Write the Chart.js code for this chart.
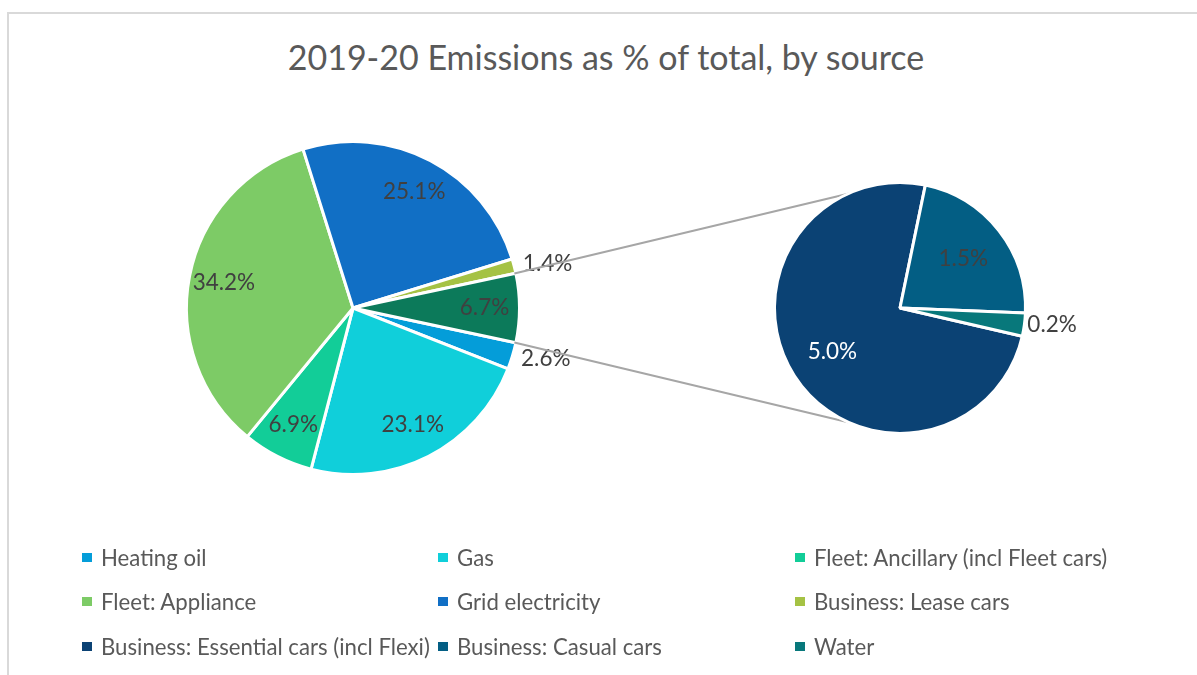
<!DOCTYPE html>
<html>
<head>
<meta charset="utf-8">
<script src="https://cdn.jsdelivr.net/npm/chart.js@4.4.1/dist/chart.umd.min.js"></script>
<style>
  html, body { margin: 0; padding: 0; background: #ffffff; }
  #wrap { position: relative; width: 1197px; height: 675px; overflow: hidden; font-family: Lato, "Open Sans", sans-serif; }
  #frame { position: absolute; left: 7px; top: 12px; width: 1400px; height: 900px;
           border-top: 2px solid #d9d9d9; border-left: 2px solid #d9d9d9; }
  #title { position: absolute; left: 0; width: 1212px; top: 35px; text-align: center;
           font-size: 34px; line-height: 44px; color: #595959; white-space: nowrap; }
  canvas { position: absolute; left: 0; top: 0; }
  #legend { position: absolute; left: 82px; top: 535px; display: grid;
            grid-template-columns: 356px 357px 360px; grid-auto-rows: 44.5px; align-items: center;
            font-size: 22.2px; color: #595959; }
  .item { display: flex; align-items: center; white-space: nowrap; }
  .mk { width: 10px; height: 9px; margin-right: 9px; flex: 0 0 auto; }
</style>
</head>
<body>
<div id="wrap">
  <div id="frame"></div>
  <div id="title">2019-20 Emissions as % of total, by source</div>
  <canvas id="mainPie" width="1197" height="675"></canvas>
  <canvas id="subPie" width="1197" height="675"></canvas>
  <div id="legend"></div>
</div>
<script>
// ---- data ----
const mainLabels = ['Heating oil', 'Gas', 'Fleet: Ancillary (incl Fleet cars)', 'Fleet: Appliance',
                    'Grid electricity', 'Business: Lease cars', 'Other'];
const mainValues = [2.6, 23.1, 6.9, 34.2, 25.1, 1.4, 6.7];
const subLabels = ['Business: Essential cars (incl Flexi)', 'Business: Casual cars', 'Water'];
const subValues = [5.0, 1.5, 0.2];

// ---- styles ----
const mainColors = ['#049dd9', '#10cfda', '#12cd98', '#7dcb66', '#116fc5', '#a5c244', '#0c7a5a'];
const subColors = ['#0b4274', '#035e84', '#08787b'];
const subLabelColors = ['#ffffff', '#404040', '#404040'];
const labelFont = '22.5px Lato, "Open Sans", sans-serif';

// legend (all series except the "Other" aggregate)
const legendEl = document.getElementById('legend');
const legendNames = mainLabels.slice(0, mainLabels.length - 1).concat(subLabels);
const legendColors = mainColors.slice(0, mainColors.length - 1).concat(subColors);
legendNames.forEach((n, i) => {
  const d = document.createElement('div');
  d.className = 'item';
  const m = document.createElement('span');
  m.className = 'mk';
  m.style.background = legendColors[i];
  const t = document.createElement('span');
  t.textContent = n;
  d.appendChild(m); d.appendChild(t);
  legendEl.appendChild(d);
});

const pctLabels = {
  id: 'pctLabels',
  afterDatasetsDraw(chart, args, opts) {
    const ctx = chart.ctx;
    const meta = chart.getDatasetMeta(0);
    const ds = chart.data.datasets[0];
    ctx.save();
    ctx.font = opts.font;
    ctx.textBaseline = 'middle';
    meta.data.forEach((arc, i) => {
      const v = ds.data[i];
      const p = arc.getProps(['x', 'y', 'startAngle', 'endAngle', 'outerRadius'], true);
      const mid = (p.startAngle + p.endAngle) / 2;
      let d, align;
      if (v < opts.outsideBelow) {
        d = p.outerRadius + opts.outsideGap;
        align = Math.cos(mid) >= 0 ? 'left' : 'right';
      } else {
        d = p.outerRadius * opts.insideFactor;
        align = 'center';
      }
      ctx.textAlign = align;
      ctx.fillStyle = (opts.colors && opts.colors[i]) || '#404040';
      ctx.fillText(v.toFixed(1) + '%', p.x + Math.cos(mid) * d, p.y + Math.sin(mid) * d);
    });
    ctx.restore();
  }
};

const otherShare = mainValues[mainValues.length - 1] / mainValues.reduce((a, b) => a + b, 0);

const mainChart = new Chart(document.getElementById('mainPie'), {
  type: 'pie',
  data: {
    labels: mainLabels,
    datasets: [{ data: mainValues, backgroundColor: mainColors, borderColor: '#ffffff', borderWidth: 3 }]
  },
  options: {
    responsive: false,
    animation: false,
    rotation: 90 + otherShare * 180,
    layout: { padding: { left: 185, top: 140, right: 676, bottom: 199 } },
    plugins: {
      legend: { display: false },
      tooltip: { enabled: false },
      pctLabels: { font: labelFont, outsideBelow: 2.65, outsideGap: 9, insideFactor: 0.79 }
    }
  },
  plugins: [pctLabels]
});

const connectors = {
  id: 'connectors',
  beforeDatasetsDraw(chart) {
    const mMeta = mainChart.getDatasetMeta(0);
    const oArc = mMeta.data[mMeta.data.length - 1];
    const o = oArc.getProps(['x', 'y', 'startAngle', 'endAngle', 'outerRadius'], true);
    const s = chart.getDatasetMeta(0).data[0].getProps(['x', 'y', 'outerRadius'], true);
    const r0 = o.outerRadius - 1.5;
    const sr = s.outerRadius - 1.5;
    const a1 = -110 * Math.PI / 180, a2 = 110 * Math.PI / 180;
    const ctx = chart.ctx;
    ctx.save();
    ctx.strokeStyle = '#a6a6a6';
    ctx.lineWidth = 2;
    ctx.beginPath();
    ctx.moveTo(o.x + Math.cos(o.startAngle) * r0, o.y + Math.sin(o.startAngle) * r0);
    ctx.lineTo(s.x + Math.cos(a1) * sr, s.y + Math.sin(a1) * sr);
    ctx.moveTo(o.x + Math.cos(o.endAngle) * r0, o.y + Math.sin(o.endAngle) * r0);
    ctx.lineTo(s.x + Math.cos(a2) * sr, s.y + Math.sin(a2) * sr);
    ctx.stroke();
    ctx.restore();
  }
};

new Chart(document.getElementById('subPie'), {
  type: 'pie',
  data: {
    labels: subLabels,
    datasets: [{ data: subValues, backgroundColor: subColors, borderColor: '#ffffff', borderWidth: 3 }]
  },
  options: {
    responsive: false,
    animation: false,
    rotation: 103,
    layout: { padding: { left: 773, top: 181, right: 170, bottom: 240 } },
    plugins: {
      legend: { display: false },
      tooltip: { enabled: false },
      pctLabels: { font: labelFont, outsideBelow: 0.5, outsideGap: 3, insideFactor: 0.64, colors: subLabelColors }
    }
  },
  plugins: [connectors, pctLabels]
});
</script>
</body>
</html>
